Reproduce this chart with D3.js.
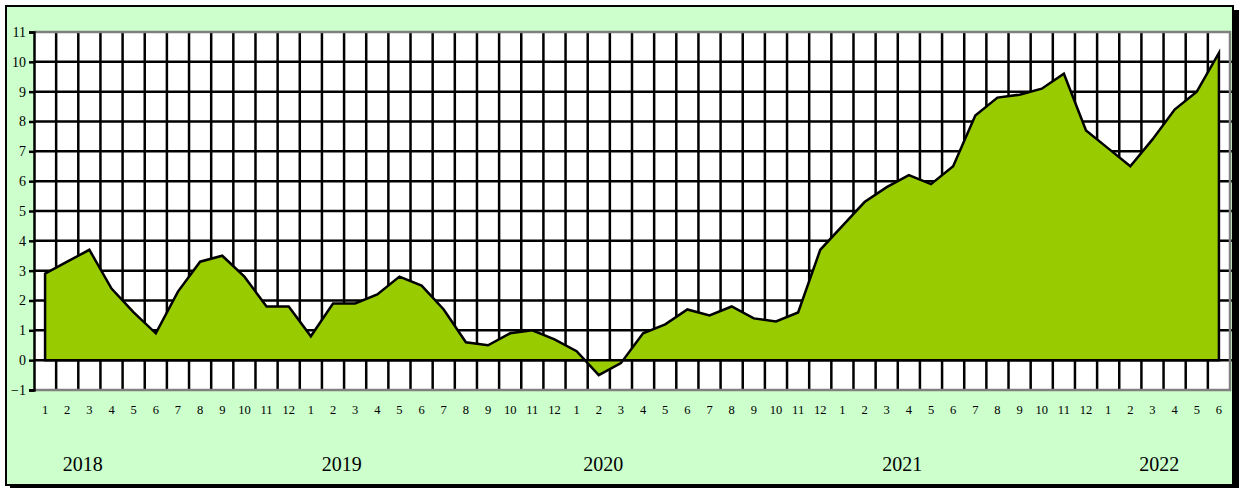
<!DOCTYPE html>
<html><head><meta charset="utf-8">
<script src="https://cdn.jsdelivr.net/npm/d3@7"></script>
<style>html,body{margin:0;padding:0;background:#fff;}svg{display:block;}</style>
</head><body>
<svg id="chart" width="1239" height="488"></svg>
<script>
const years = [2018, 2019, 2020, 2021, 2022];
const monthsPerYear = [12, 12, 12, 12, 6];
const yTicks = [-1, 0, 1, 2, 3, 4, 5, 6, 7, 8, 9, 10, 11];
const values = [
  2.9, 3.3, 3.7, 2.4, 1.6, 0.9, 2.3, 3.3, 3.5, 2.8, 1.8, 1.8,
  0.8, 1.9, 1.9, 2.2, 2.8, 2.5, 1.7, 0.6, 0.5, 0.9, 1.0, 0.7,
  0.3, -0.5, -0.1, 0.9, 1.2, 1.7, 1.5, 1.8, 1.4, 1.3, 1.6, 3.7,
  4.5, 5.3, 5.8, 6.2, 5.9, 6.5, 8.2, 8.8, 8.9, 9.1, 9.6, 7.7,
  7.1, 6.5, 7.4, 8.4, 9.0, 10.3
];
// year label anchor (in category units from the left edge of the plot)
const yearLabelPos = [2.2, 13.9, 25.7, 39.2, 50.8];

const categories = [];
years.forEach((y, yi) => { for (let m = 1; m <= monthsPerYear[yi]; m++) categories.push({year: y, month: m, key: y + "-" + m}); });
const data = categories.map((c, i) => ({...c, value: values[i]}));

const svg = d3.select("#chart");
const L = 34, R = 1230, T = 32, B = 390;

// outer chart area with shadow
svg.append("rect").attr("x", 10).attr("y", 10).attr("width", 1229).attr("height", 478).attr("fill", "#000");
svg.append("rect").attr("x", 6).attr("y", 6).attr("width", 1227).attr("height", 479)
  .attr("fill", "#CCFFCC").attr("stroke", "#000").attr("stroke-width", 2);

const x = d3.scaleBand().domain(categories.map(c => c.key)).range([L, R]).padding(0);
const bw = x.bandwidth();
const cx = k => x(k) + bw / 2;
const y = d3.scaleLinear().domain([-1, 11]).range([B, T]);

const g = svg.append("g");
g.append("rect").attr("x", L).attr("y", T).attr("width", R - L).attr("height", B - T).attr("fill", "#fff");

// vertical gridlines at category boundaries
g.append("g").selectAll("line").data(categories.slice(1)).join("line")
  .attr("x1", d => x(d.key)).attr("x2", d => x(d.key))
  .attr("y1", T).attr("y2", B)
  .attr("stroke", "#000").attr("stroke-width", 2.5);

// horizontal gridlines
g.append("g").selectAll("line").data(yTicks.filter(v => v > -1 && v < 11)).join("line")
  .attr("x1", L).attr("x2", R + 2).attr("y1", d => y(d)).attr("y2", d => y(d))
  .attr("stroke", "#000").attr("stroke-width", 2.5);

// plot border (gray top, right, bottom)
g.append("path").attr("d", `M${L},${T}H${R}V${B}H${L}`).attr("fill", "none")
  .attr("stroke", "#808080").attr("stroke-width", 2.5);

// area
const area = d3.area().x(d => cx(d.key)).y0(y(0)).y1(d => y(d.value));
g.append("path").datum(data).attr("d", area)
  .attr("fill", "#99CC00").attr("stroke", "#000").attr("stroke-width", 2.5).attr("stroke-linejoin", "miter");

// left axis
const yAxis = d3.axisLeft(y).tickValues(yTicks).tickSize(5).tickFormat(d3.format("d"));
const ya = svg.append("g").attr("transform", `translate(${L},0)`).call(yAxis);
ya.select(".domain").attr("stroke", "#000").attr("stroke-width", 2.5);
ya.selectAll(".tick line").attr("stroke", "#000").attr("stroke-width", 2.5);
ya.selectAll(".tick text").attr("x", -8).attr("font-family", "Liberation Serif, serif").attr("font-size", 14).attr("fill", "#000");

// month labels
const xAxis = d3.axisBottom(x).tickSize(0).tickFormat(k => categories.find(c => c.key === k).month);
const xa = svg.append("g").attr("transform", `translate(0,${B})`).call(xAxis);
xa.select(".domain").remove();
xa.selectAll(".tick text").attr("y", 15).attr("font-family", "Liberation Serif, serif").attr("font-size", 12.5).attr("fill", "#000");

// year labels
svg.append("g").selectAll("text").data(years).join("text")
  .attr("x", (d, i) => L + yearLabelPos[i] * bw)
  .attr("y", 471)
  .attr("text-anchor", "middle")
  .attr("font-family", "Liberation Serif, serif").attr("font-size", 20).attr("fill", "#000")
  .text(d => d);
</script>
</body></html>
